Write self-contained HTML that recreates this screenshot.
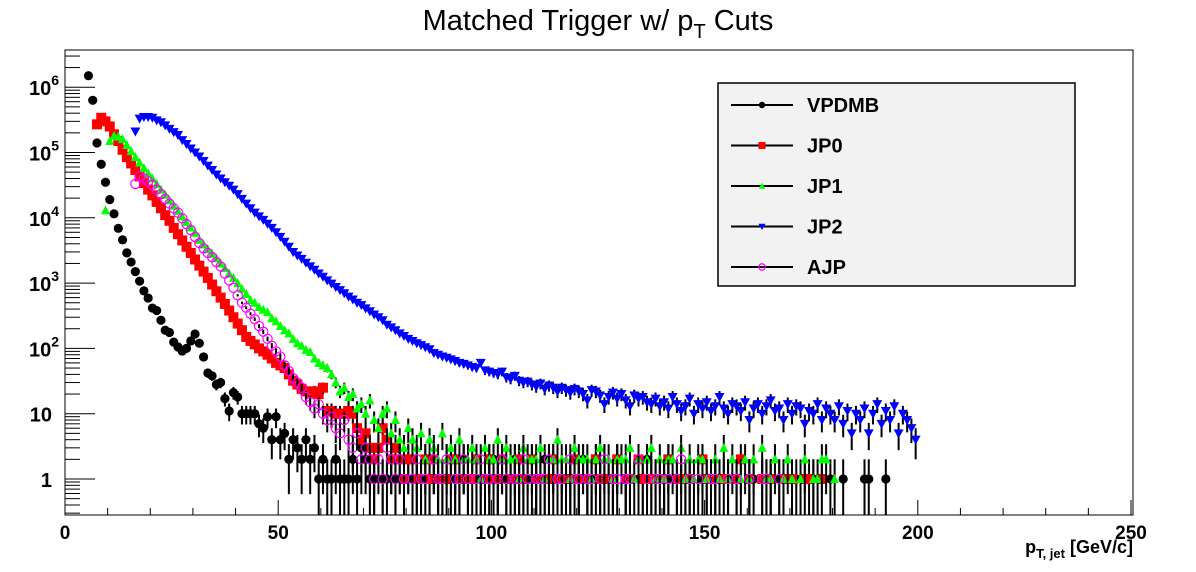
<!DOCTYPE html>
<html><head><meta charset="utf-8"><style>
html,body{margin:0;padding:0;background:#fff;}
svg{display:block;font-family:"Liberation Sans",Arial,sans-serif;}
</style></head><body>
<svg id="chart" width="1196" height="572" viewBox="0 0 1196 572">
<rect x="0" y="0" width="1196" height="572" fill="#fff"/>
<text x="598" y="30" text-anchor="middle" font-size="29">Matched Trigger w/ p<tspan font-size="20" dy="8">T</tspan><tspan dy="-8"> Cuts</tspan></text>
<g id="axes"></g>
<g id="marks"></g>
<rect x="65" y="50" width="1068" height="465" fill="none" stroke="#000" stroke-width="1"/>
<text x="1133" y="553" text-anchor="end" font-size="18" font-weight="bold">p<tspan font-size="13" dy="5">T, jet</tspan><tspan dy="-5"> [GeV/c]</tspan></text>
<g id="legend"></g>
</svg>
<script>
const vpdStart=5;
const vpd=[1500000,630000,140000,66000,35000,19000,11500,6900,4600,2900,2100,1500,1070,760,590,415,380,270,190,175,125,105,91,100,130,166,120,74,42,38,28,30,17,11,21,18,10,10,10,10,7,6,9,4,9,
4,5,2,4,3,2,4,2,3,1,2,1,1,2,1,1,1,2,1,3,2,1,1,0,1,1,2,1,0,1,2,1,1,1,0,1,2,1,1,0,1,1,1,2,1,0,1,1,1,1,2,1,0,1,1,2,1,1,0,1,1,1,2,1,1,0,1,1,1,0,1,2,1,1,1,1,0,1,1,2,0,1,1,0,1,1,2,1,0,0,1,1,0,0,1,1,1,0,0,1,0,1,1,0,0,1,0,1,0,0,1,1,0,0,0,1,0,1,0,0,0,1,0,0,0,1,0,0,0,1,0,0,1,0,0,0,0,1,1,0,0,0,1];
const jp0Start=7;
const jp0=[270000,340000,300000,250000,190000,150000,110000,85000,68000,54000,43000,34000,27000,22000,17500,14000,11000,9000,7000,5600,4500,3600,2900,2300,1850,1500,1200,950,750,600,480,380,300,240,190,150,130,115,100,90,80,70,60,55,50,40,32,28,24,22,21,22,20,25,11,11,10,10,10,11,10,6,4,5,3,2,3,6,4,2,3,2,1,2,
2,1,0,2,1,2,1,0,1,2,2,1,0,1,1,2,0,1,2,1,1,2,0,1,1,2,1,0,2,1,1,0,1,2,1,0,1,1,2,1,0,1,0,2,1,1,0,1,2,0,1,1,0,2,1,0,1,1,0,1,2,0,1,0,1,1,0,0,2,1,0,1,0,1,0,0,1,2,0,1,0,0,1,0,1,0,0,1,0,1,0,0,1,1,0,0,1];
const jp1Start=9;
const jp1=[13000,150000,180000,175000,160000,130000,105000,85000,70000,58000,48000,40000,33000,27000,22500,18500,15300,12700,10500,8600,7100,5900,4600,3900,3300,2800,2400,2000,1700,1400,1200,1000,820,680,550,500,430,390,360,290,260,220,190,170,140,120,110,95,88,70,60,55,50,40,30,22,25,18,20,12,14,10,16,8,6,10,12,5,8,4,3,6,4,3,5,2,4,
3,2,5,2,3,2,4,2,2,3,2,1,3,2,2,4,2,3,2,2,1,3,2,2,2,3,1,2,2,4,2,2,1,3,2,2,2,1,2,3,2,2,1,2,2,2,3,1,2,0,2,3,1,2,1,2,2,0,3,1,2,1,2,2,1,0,2,1,3,1,2,0,1,2,1,2,0,3,1,1,2,0,1,2,1,0,1,2,0,1,1,2,2,0,1,0];
const jp2Start=16;
const jp2=[210000,330000,350000,350000,340000,310000,290000,260000,230000,205000,185000,155000,135000,115000,100000,87000,74000,63000,54000,46000,40000,35000,31000,27000,23000,19500,16500,14000,12000,10500,9300,8100,7000,6000,5100,4300,3600,3000,2650,2350,2050,1800,1600,1400,1250,1100,980,870,780,700,620,560,500,460,410,370,330,300,270,230,210,190,170,155,140,130,120,112,104,97,
85,80,75,72,68,64,60,58,55,52,50,60,46,44,42,40,44,36,34,38,32,30,31,28,26,29,24,27,25,22,25,23,21,24,22,20,16,23,22,19,14,18,21,17,20,16,13,19,17,18,15,14,17,13,15,12,18,14,11,13,17,10,14,12,15,
11,13,18,12,10,14,13,11,15,8,12,14,10,13,16,11,12,8,14,10,13,12,7,11,10,14,8,12,10,8,13,7,11,5,10,8,12,5,10,14,7,11,8,13,5,10,8,6,4];
const ajpStart=16;
const ajp=[33000,43000,40000,36000,32000,27000,23000,19500,16500,14000,12000,9800,8000,6500,5100,4100,3400,2900,2500,2100,1800,1400,1100,850,650,500,420,340,280,220,180,140,110,90,75,55,45,35,30,25,18,15,12,14,10,8,9,6,5,8,4,3,5,2,3,2,1,2,1,3,2,1,
2,1,0,1,2,1,1,0,2,1,1,2,0,1,1,2,1,0,1,2,1,1,0,1,2,1,0,1,1,2,1,0,1,1,1,2,0,1,1,0,2,1,1,0,1,1,0,1,2,0,1,1,0,1,1,0,2,0,1,0,1,1,0,1,0,1,2,0,1,0,1,0,0,1,1,0,0,1,0,1,0,0,1,0,0,1,1,0,0,1,0];
const xTicks=[0,50,100,150,200,250];
const yTickExp=[0,1,2,3,4,5,6];

const NS="http://www.w3.org/2000/svg";
const X0=65,X1=1133,Y0=50,Y1=515;
const xScale=v=>65+v*(1131-65)/250;
const yScale=v=>479-Math.log10(v)*65.3;
function mk(tag,attrs,parent){const e=document.createElementNS(NS,tag);for(const k in attrs)e.setAttribute(k,attrs[k]);parent.appendChild(e);return e;}
const axes=document.getElementById('axes');
for(let v=0;v<=250;v+=10){
  const major=v%50===0;
  const t=mk('line',{x1:xScale(v),x2:xScale(v),y1:Y1,y2:Y1-(major?15:7),stroke:'#000','stroke-width':1},axes);
  
  
}
xTicks.forEach(v=>{
  const t=mk('text',{x:xScale(v),y:539,'text-anchor':'middle','font-size':19,'font-weight':'bold'},axes);
  t.textContent=String(v);
  
  
});
for(let e=-1;e<=6;e++){
  for(let m=1;m<=9;m++){
    const v=m*Math.pow(10,e);const y=yScale(v);
    if(y<Y0||y>Y1)continue;
    const t=mk('line',{x1:X0,x2:X0+(m===1?30:15),y1:y,y2:y,stroke:'#000','stroke-width':1},axes);
    
    
  }
}
yTickExp.forEach(e=>{
  const y=yScale(Math.pow(10,e));
  const t=mk('text',{x:e<=1?52:59,y:y+8,'text-anchor':'end','font-size':20,'font-weight':'bold'},axes);
  if(e===0)t.textContent='1';
  else if(e===1)t.textContent='10';
  else{t.textContent='10';const s=mk('tspan',{'font-size':14,dy:-10},t);s.textContent=String(e);}
  
  
});
function marker(type,cx,cy,s,parent){
  let el;
  if(type==='circle')el=mk('circle',{cx,cy,r:4.6*s,fill:'#000'},parent);
  else if(type==='square')el=mk('rect',{x:cx-5*s,y:cy-5*s,width:10*s,height:10*s,fill:'#ff0000'},parent);
  else if(type==='up')el=mk('polygon',{points:`${cx-4.5*s},${cy+4*s} ${cx+4.5*s},${cy+4*s} ${cx},${cy-5*s}`,fill:'#00ff00'},parent);
  else if(type==='down')el=mk('polygon',{points:`${cx-5*s},${cy-4*s} ${cx+5*s},${cy-4*s} ${cx},${cy+5*s}`,fill:'#0000ff'},parent);
  else el=mk('circle',{cx,cy,r:4.6*s,fill:'none',stroke:'#ff00ff','stroke-width':1.2},parent);
  return el;
}
const marks=document.getElementById('marks');
const series=[
 {name:'vpdmb',data:vpd,start:vpdStart,type:'circle'},
 {name:'jp0',data:jp0,start:jp0Start,type:'square'},
 {name:'jp1',data:jp1,start:jp1Start,type:'up'},
 {name:'jp2',data:jp2,start:jp2Start,type:'down'},
 {name:'ajp',data:ajp,start:ajpStart,type:'open'}];
series.forEach(s=>{
  const g=mk('g',{},marks);
  
  
  s.data.forEach((v,i)=>{
    if(!v)return;
    const bin=s.start+i;if(bin>=200)return;
    const cx=xScale(bin+0.5),cy=yScale(v);
    const err=Math.sqrt(v);
    const lo=v-err>0?Math.min(Y1,yScale(v-err)):Y1;
    const hi=Math.max(Y0,yScale(v+err));
    if(lo-hi>2){
      const b=mk('line',{x1:cx,x2:cx,y1:hi,y2:lo,stroke:'#000','stroke-width':2},g);
      
      
    }
    const m=marker(s.type,cx,cy,1,g);
    
    
  });
});
const lg=document.getElementById('legend');
const box=mk('rect',{x:718,y:83,width:357,height:203,fill:'#f2f2f2',stroke:'#000','stroke-width':1.5},lg);


const labels=['VPDMB','JP0','JP1','JP2','AJP'];
labels.forEach((lab,i)=>{
  const y=105+i*40.5;
  const g=mk('g',{},lg);
  
  
  mk('line',{x1:731,x2:793,y1:y,y2:y,stroke:'#000','stroke-width':2},g);
  marker(series[i].type,762,y,0.7,g);
  const t=mk('text',{x:807,y:y+7,'font-size':20,'font-weight':'bold'},g);
  t.textContent=lab;
});
</script>
</body></html>
